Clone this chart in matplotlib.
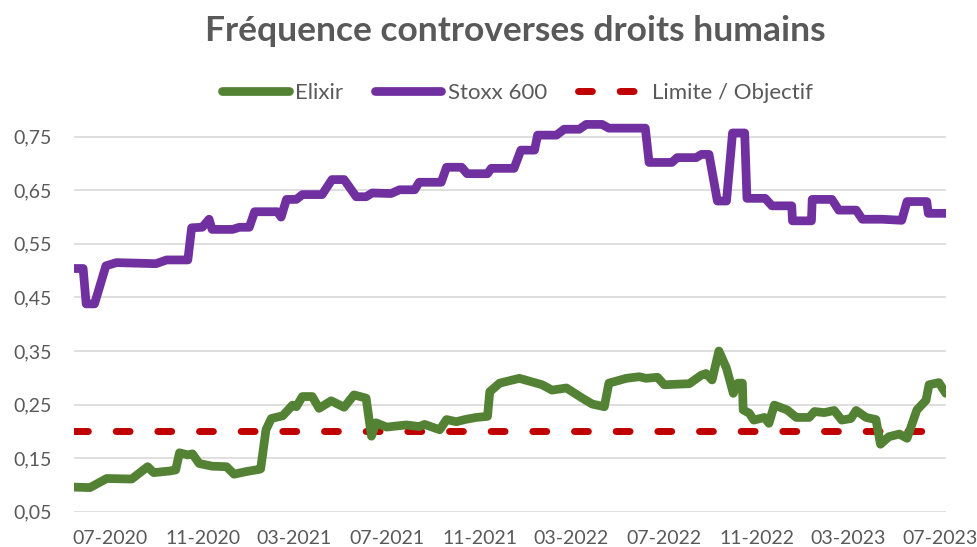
import numpy as np
import pandas as pd
import matplotlib
matplotlib.use("Agg")
import matplotlib.pyplot as plt
import matplotlib.dates as mdates
from matplotlib.ticker import FuncFormatter

plt.rcParams['font.family'] = ['Lato', 'DejaVu Sans']

# Stoxx 600
stoxx_dates = ['2020-05-15', '2020-05-27', '2020-05-31', '2020-06-11', '2020-06-26', '2020-07-10',
               '2020-08-31', '2020-09-14', '2020-10-12', '2020-10-17', '2020-10-31', '2020-11-09',
               '2020-11-13', '2020-12-10', '2020-12-19', '2021-01-01', '2021-01-08', '2021-02-07',
               '2021-02-12', '2021-02-19', '2021-03-04', '2021-03-12', '2021-04-07', '2021-04-20',
               '2021-05-06', '2021-05-22', '2021-06-04', '2021-06-12', '2021-07-07', '2021-07-18',
               '2021-08-07', '2021-08-13', '2021-09-11', '2021-09-18', '2021-10-08', '2021-10-15',
               '2021-11-11', '2021-11-16', '2021-12-16', '2021-12-25', '2022-01-12', '2022-01-16',
               '2022-02-10', '2022-02-20', '2022-03-12', '2022-03-21', '2022-04-11', '2022-04-20',
               '2022-06-07', '2022-06-12', '2022-07-12', '2022-07-19', '2022-08-13', '2022-08-20',
               '2022-08-30', '2022-09-10', '2022-09-22', '2022-09-30', '2022-10-16', '2022-10-19',
               '2022-11-12', '2022-11-21', '2022-12-17', '2022-12-18', '2023-01-12', '2023-01-13',
               '2023-02-08', '2023-02-17', '2023-03-12', '2023-03-20', '2023-04-15', '2023-05-11',
               '2023-05-18', '2023-06-13', '2023-06-15', '2023-07-08']
stoxx_vals = [0.504, 0.504, 0.438, 0.438, 0.509, 0.515,
              0.513, 0.520, 0.520, 0.580, 0.581, 0.596,
              0.577, 0.577, 0.581, 0.581, 0.610, 0.610,
              0.600, 0.633, 0.633, 0.642, 0.642, 0.670,
              0.670, 0.638, 0.638, 0.645, 0.644, 0.651,
              0.651, 0.665, 0.665, 0.693, 0.693, 0.681,
              0.681, 0.691, 0.691, 0.725, 0.725, 0.753,
              0.753, 0.764, 0.764, 0.773, 0.773, 0.766,
              0.766, 0.702, 0.702, 0.711, 0.711, 0.717,
              0.717, 0.630, 0.630, 0.757, 0.757, 0.635,
              0.635, 0.621, 0.621, 0.593, 0.593, 0.633,
              0.633, 0.613, 0.613, 0.596, 0.596, 0.594,
              0.629, 0.629, 0.607, 0.607]

# Elixir
elixir_dates = ['2020-05-15', '2020-06-05', '2020-06-27', '2020-07-30', '2020-08-20', '2020-08-28',
                '2020-09-18', '2020-09-26', '2020-10-01', '2020-10-12', '2020-10-18', '2020-10-27',
                '2020-11-13', '2020-12-02', '2020-12-12', '2020-12-28', '2021-01-14', '2021-01-16',
                '2021-01-23', '2021-01-30', '2021-02-14', '2021-02-27', '2021-03-04', '2021-03-12',
                '2021-03-25', '2021-04-03', '2021-04-19', '2021-05-06', '2021-05-19', '2021-06-04',
                '2021-06-11', '2021-06-17', '2021-07-01', '2021-07-27', '2021-08-13', '2021-08-20',
                '2021-09-09', '2021-09-18', '2021-10-01', '2021-10-12', '2021-10-27', '2021-11-11',
                '2021-11-14', '2021-11-27', '2021-12-23', '2022-01-22', '2022-02-04', '2022-02-23',
                '2022-03-16', '2022-03-29', '2022-04-14', '2022-04-20', '2022-05-13', '2022-05-30',
                '2022-06-08', '2022-06-23', '2022-07-02', '2022-08-04', '2022-08-20', '2022-08-26',
                '2022-09-03', '2022-09-12', '2022-09-22', '2022-10-01', '2022-10-07', '2022-10-13',
                '2022-10-14', '2022-10-22', '2022-10-28', '2022-11-11', '2022-11-17', '2022-11-24',
                '2022-12-11', '2022-12-23', '2023-01-09', '2023-01-16', '2023-01-29', '2023-02-11',
                '2023-02-21', '2023-03-05', '2023-03-12', '2023-03-25', '2023-04-07', '2023-04-13',
                '2023-04-24', '2023-05-08', '2023-05-18', '2023-05-31', '2023-06-12', '2023-06-16',
                '2023-06-29', '2023-07-08']
elixir_vals = [0.096, 0.095, 0.112, 0.111, 0.134, 0.123,
               0.126, 0.128, 0.160, 0.156, 0.158, 0.140,
               0.135, 0.134, 0.120, 0.125, 0.129, 0.130,
               0.203, 0.224, 0.229, 0.249, 0.246, 0.265,
               0.265, 0.243, 0.257, 0.245, 0.268, 0.262,
               0.191, 0.216, 0.208, 0.212, 0.209, 0.213,
               0.203, 0.222, 0.218, 0.222, 0.226, 0.228,
               0.274, 0.290, 0.299, 0.287, 0.277, 0.281,
               0.262, 0.251, 0.246, 0.290, 0.299, 0.302,
               0.299, 0.301, 0.287, 0.289, 0.305, 0.308,
               0.296, 0.350, 0.318, 0.271, 0.290, 0.290,
               0.240, 0.234, 0.221, 0.226, 0.215, 0.249,
               0.240, 0.226, 0.226, 0.237, 0.235, 0.239,
               0.221, 0.224, 0.239, 0.226, 0.222, 0.176,
               0.190, 0.195, 0.187, 0.240, 0.258, 0.287,
               0.291, 0.271]

limite = 0.20

green = '#548235'
purple = '#7030A0'
red = '#C00000'
txt = '#595959'

s_dates = pd.to_datetime(stoxx_dates)
e_dates = pd.to_datetime(elixir_dates)

fig = plt.figure(figsize=(9.78, 5.47), dpi=100)
ax = fig.add_axes([0.0757, 0.0645, 0.8913, 0.7345])

ax.plot(e_dates, elixir_vals, color=green, lw=6.3, solid_joinstyle='round',
        solid_capstyle='round', label='Elixir', zorder=3)
ax.plot(s_dates, stoxx_vals, color=purple, lw=6.3, solid_joinstyle='round',
        solid_capstyle='round', label='Stoxx 600', zorder=3)
ax.plot([s_dates[0], s_dates[-1]], [limite, limite], color=red, lw=5,
        dashes=(2.0, 4.0), dash_capstyle='round', label='Limite / Objectif', zorder=2)

ax.set_xlim(s_dates[0], s_dates[-1])
ax.set_ylim(0.05, 0.80)
ax.set_yticks(np.arange(0.05, 0.76, 0.1))
ax.yaxis.set_major_formatter(FuncFormatter(lambda v, p: f'{v:.2f}'.replace('.', ',')))
ax.xaxis.set_major_locator(mdates.MonthLocator(bymonth=[3, 7, 11]))
ax.xaxis.set_major_formatter(mdates.DateFormatter('%m-%Y'))

ax.grid(axis='y', color='#D9D9D9', lw=1.2)
ax.set_axisbelow(True)
for s in ax.spines.values():
    s.set_visible(False)
ax.tick_params(length=0, labelsize=14, colors=txt)
ax.tick_params(axis='y', pad=16)
ax.tick_params(axis='x', pad=13)

fig.text(0.527, 0.944, 'Fréquence controverses droits humains', ha='center', va='center',
         fontsize=25.5, fontweight='bold', color=txt)

leg = fig.legend(loc='center', bbox_to_anchor=(0.529, 0.83), ncol=3, frameon=False,
                 fontsize=16, handlelength=3.0, handletextpad=0.3, columnspacing=1.4)
for t in leg.get_texts():
    t.set_color(txt)

fig.savefig('out.png', dpi=100)
